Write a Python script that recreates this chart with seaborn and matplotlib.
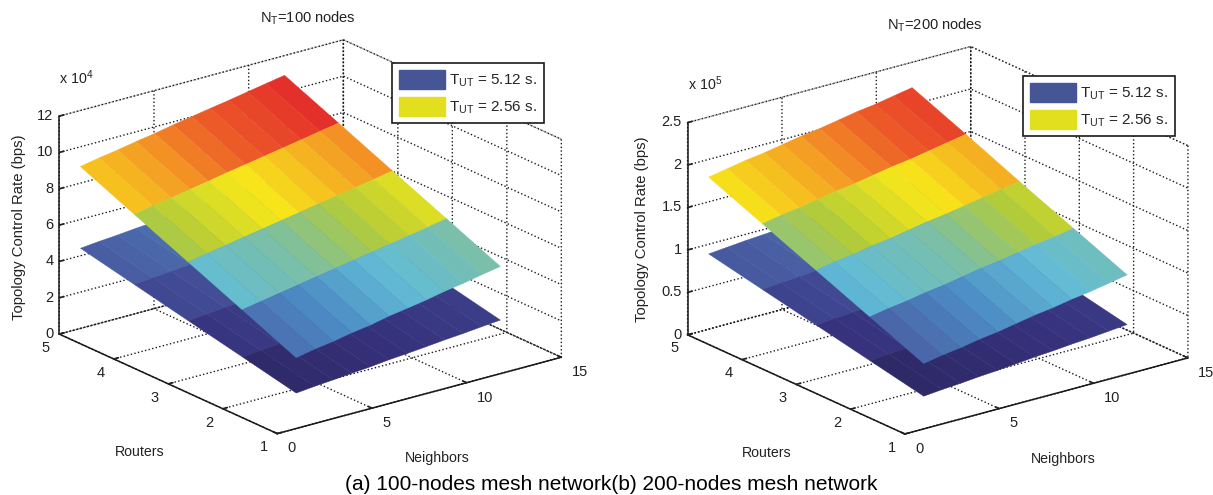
import numpy as np
import matplotlib
matplotlib.use('Agg')
import matplotlib.pyplot as plt
from matplotlib.colors import Normalize
from matplotlib.patches import Patch
import seaborn as sns

W, H = 1213, 495

neighbors = [1.0, 1.98, 2.96, 3.94, 4.92, 5.9, 6.88, 7.86, 8.84, 9.82, 10.8, 11.78]
routers = [1, 1.99, 2.98, 3.97, 4.96]

# x 10^4 bps
high_100 = [[3.90, 4.10, 4.25, 4.45, 4.60, 4.82, 4.98, 5.15, 5.36, 5.52, 5.72, 5.90],
            [5.18, 5.36, 5.54, 5.72, 5.90, 6.08, 6.26, 6.44, 6.62, 6.80, 6.98, 7.18],
            [6.45, 6.64, 6.82, 7.00, 7.18, 7.36, 7.54, 7.72, 7.90, 8.08, 8.26, 8.45],
            [7.72, 7.92, 8.08, 8.28, 8.45, 8.65, 8.82, 9.00, 9.18, 9.36, 9.55, 9.73],
            [9.00, 9.20, 9.36, 9.55, 9.72, 9.92, 10.10, 10.28, 10.45, 10.64, 10.82, 11.00]]
low_100 = [[1.95, 2.05, 2.13, 2.22, 2.30, 2.41, 2.49, 2.58, 2.68, 2.76, 2.86, 2.95],
           [2.59, 2.68, 2.77, 2.86, 2.95, 3.04, 3.13, 3.22, 3.31, 3.40, 3.49, 3.59],
           [3.22, 3.32, 3.41, 3.50, 3.59, 3.68, 3.77, 3.86, 3.95, 4.04, 4.13, 4.22],
           [3.86, 3.96, 4.04, 4.14, 4.22, 4.32, 4.41, 4.50, 4.59, 4.68, 4.78, 4.86],
           [4.50, 4.60, 4.68, 4.78, 4.86, 4.96, 5.05, 5.14, 5.22, 5.32, 5.41, 5.50]]

# x 10^5 bps
high_200 = [[0.77, 0.81, 0.84, 0.88, 0.91, 0.95, 0.99, 1.02, 1.06, 1.09, 1.13, 1.17],
            [1.03, 1.07, 1.10, 1.14, 1.17, 1.21, 1.25, 1.28, 1.32, 1.36, 1.39, 1.43],
            [1.29, 1.33, 1.36, 1.40, 1.43, 1.47, 1.51, 1.54, 1.58, 1.62, 1.66, 1.69],
            [1.55, 1.59, 1.62, 1.66, 1.70, 1.73, 1.77, 1.81, 1.84, 1.88, 1.92, 1.96],
            [1.81, 1.85, 1.89, 1.92, 1.96, 2.00, 2.03, 2.07, 2.11, 2.14, 2.18, 2.22]]
low_200 = [[0.385, 0.405, 0.42, 0.44, 0.455, 0.475, 0.495, 0.51, 0.53, 0.545, 0.565, 0.585],
           [0.515, 0.535, 0.55, 0.57, 0.585, 0.605, 0.625, 0.64, 0.66, 0.68, 0.695, 0.715],
           [0.645, 0.665, 0.68, 0.70, 0.715, 0.735, 0.755, 0.77, 0.79, 0.81, 0.83, 0.845],
           [0.775, 0.795, 0.81, 0.83, 0.85, 0.865, 0.885, 0.905, 0.92, 0.94, 0.96, 0.98],
           [0.905, 0.925, 0.945, 0.96, 0.98, 1.00, 1.015, 1.035, 1.055, 1.07, 1.09, 1.11]]

x_ticks = [0, 5, 10, 15]
y_ticks = [1, 2, 3, 4, 5]
z_ticks_100 = [0, 2, 4, 6, 8, 10, 12]
z_labels_100 = ['0', '2', '4', '6', '8', '10', '12']
z_ticks_200 = [0, 0.5, 1, 1.5, 2, 2.5]
z_labels_200 = ['0', '0.5', '1', '1.5', '2', '2.5']

mesh_colors = ['#2c2760', '#35307a', '#3f4590', '#4a5fa4', '#4c8ac4', '#62bcd6',
               '#7bbfa6', '#b5cc35', '#f7e81a', '#f5a623', '#ec5a28', '#e4302a']

sns.set_theme(style='white')
plt.rcParams['font.family'] = ['Liberation Sans', 'DejaVu Sans']
plt.rcParams['mathtext.default'] = 'regular'
mesh_cmap = sns.blend_palette(mesh_colors, as_cmap=True)


def align(axis, ha, va):
    for tick in axis.get_major_ticks():
        tick.label1.set_ha(ha)
        tick.label1.set_va(va)


def draw_panel(fig, cx, cy, size, z_aspect, low, high, z_ticks, z_labels):
    ax = fig.add_axes([(cx - size / 2) / W, 1 - (cy + size / 2) / H, size / W, size / H],
                      projection='3d', computed_zorder=False)
    ax.patch.set_alpha(0)
    ax.set_proj_type('ortho')
    ax.view_init(elev=20.5, azim=-127.5)
    ax.set_box_aspect((1, 1, z_aspect), zoom=1.0)

    X, Y = np.meshgrid(neighbors, routers)
    zmax = z_ticks[-1]
    norm = Normalize(2.0 / 12 * zmax, 10.3 / 12 * zmax)
    for z in [low, high]:
        Z = np.array(z)
        # facet colour from the mean height of its corners
        mean = (Z[:-1, :-1] + Z[1:, :-1] + Z[:-1, 1:] + Z[1:, 1:]) / 4
        ax.plot_surface(X, Y, Z, facecolors=mesh_cmap(norm(mean)), rstride=1, cstride=1,
                        linewidth=0.3, antialiased=True, shade=False)

    ax.set_xlim(0, 15)
    ax.set_ylim(1, 5)
    ax.set_zlim(0, zmax)
    ax.set_xticks(x_ticks)
    ax.set_yticks(y_ticks)
    ax.set_zticks(z_ticks)
    ax.set_zticklabels(z_labels)
    ax.tick_params(labelsize=10.5, colors='#222222')
    ax.tick_params(axis='x', pad=1.5)
    ax.tick_params(axis='y', pad=1.5)
    ax.tick_params(axis='z', pad=-5.6)

    for axis in [ax.xaxis, ax.yaxis, ax.zaxis]:
        axis.pane.set_facecolor((1, 1, 1, 0))
        axis.pane.set_edgecolor('k')
        axis.pane.set_linestyle(':')
        axis.pane.set_linewidth(1.0)
        axis.line.set_color('k')
        axis.line.set_linewidth(1.1)
        axis._axinfo['grid'].update(color='k', linestyle=':', linewidth=1.0)
        axis._axinfo['tick'].update(inward_factor=0.0, outward_factor=0.2)
    ax.zaxis.set_ticks_position('upper')
    ax.zaxis.set_label_position('upper')

    align(ax.xaxis, 'left', 'center')
    align(ax.yaxis, 'center', 'center')
    align(ax.zaxis, 'right', 'center')
    return ax


def label(fig, x, y, s, **kw):
    fig.text(x / W, 1 - y / H, s, ha='center', va='center', color='#222222', **kw)


fig = plt.figure(figsize=(W / 100, H / 100), dpi=100, facecolor='white')

draw_panel(fig, 303, 244, 541, 0.65, low_100, high_100, z_ticks_100, z_labels_100)
draw_panel(fig, 930.5, 247.5, 537, 0.635, low_200, high_200, z_ticks_200, z_labels_200)

label(fig, 308, 18, r'N$_{T}$=100 nodes', fontsize=10.5)
label(fig, 76, 78, r'x 10$^{4}$', fontsize=10.3)
label(fig, 19, 227, 'Topology Control Rate (bps)', fontsize=10.7, rotation=90)
label(fig, 140, 452, 'Routers', fontsize=10.2)
label(fig, 437, 458, 'Neighbors', fontsize=10.2)

label(fig, 935, 25, r'N$_{T}$=200 nodes', fontsize=10.5)
label(fig, 705, 84, r'x 10$^{5}$', fontsize=10.3)
label(fig, 642, 229, 'Topology Control Rate (bps)', fontsize=10.7, rotation=90)
label(fig, 767, 453, 'Routers', fontsize=10.2)
label(fig, 1063, 459, 'Neighbors', fontsize=10.2)

fig.text(611 / W, 1 - 484 / H, '(a) 100-nodes mesh network(b) 200-nodes mesh network',
         ha='center', va='center', fontsize=15, color='black')

handles = [Patch(facecolor='#465596', edgecolor='#465596', label=r'T$_{UT}$ = 5.12 s.'),
           Patch(facecolor='#e2e01e', edgecolor='#e2e01e', label=r'T$_{UT}$ = 2.56 s.')]
for lx, ly in [(392, 63), (1023, 76)]:
    leg = fig.legend(handles=handles, loc='upper left', bbox_to_anchor=(lx / W, 1 - ly / H),
                     bbox_transform=fig.transFigure, fontsize=11, fancybox=False, framealpha=1,
                     edgecolor='k', borderpad=0.45, handlelength=3.0, handleheight=1.5,
                     handletextpad=0.3, labelspacing=0.55, borderaxespad=0)
    leg.get_frame().set_linewidth(1.2)

fig.savefig('out.png', dpi=100)
